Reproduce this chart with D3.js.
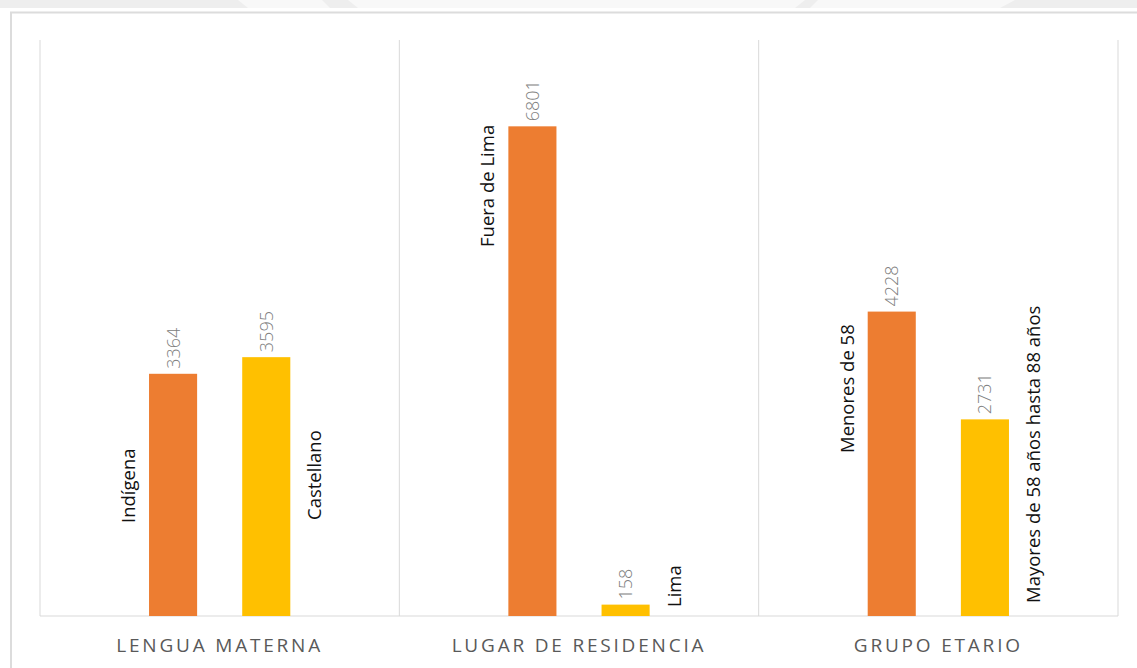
<!DOCTYPE html>
<html>
<head>
<meta charset="utf-8">
<script src="https://cdn.jsdelivr.net/npm/d3@7"></script>
<style>
  body { margin: 0; background: #fff; }
  svg { display: block; font-family: "Open Sans", sans-serif; }
</style>
</head>
<body>
<div id="chart"></div>
<script>
// Data
const groups = ["LENGUA MATERNA", "LUGAR DE RESIDENCIA", "GRUPO ETARIO"];
const firstLabels = ["Indígena", "Fuera de Lima", "Menores de 58"];
const firstValues = [3364, 6801, 4228];
const secondLabels = ["Castellano", "Lima", "Mayores de 58 años hasta 88 años"];
const secondValues = [3595, 158, 2731];

// where each rotated category label starts (px from top), set by hand in the original
const labelStartY = [[523, 520], [247, 607], [453, 603]];

const width = 1137, height = 668;
const plot = {left: 40, right: 1118, top: 40, bottom: 616};
const colors = ["#ED7D31", "#FFC000"];

const svg = d3.select("#chart").append("svg")
    .attr("width", width)
    .attr("height", height)
    .attr("viewBox", [0, 0, width, height]);

// page background bits (top strip + frame)
svg.append("rect").attr("x", 0).attr("y", 0).attr("width", width).attr("height", 8).attr("fill", "#eeeeee");
svg.append("path")
    .attr("d", "M238,0 L248,8 L330,8 L322,0 Z M348,0 L358,8 L795,8 L805,0 Z M818,0 L810,8 L1000,8 L1015,0 Z")
    .attr("fill", "#f8f8f8");
svg.append("path")
    .attr("d", `M11,${height} L11,12.5 L${width},12.5`)
    .attr("fill", "none")
    .attr("stroke", "#dcdcdc")
    .attr("stroke-width", 2);

const table = groups.map((g, i) => ({
  group: g,
  bars: [
    {label: firstLabels[i], value: firstValues[i], k: 0},
    {label: secondLabels[i], value: secondValues[i], k: 1}
  ]
}));

const x0 = d3.scaleBand(groups, [plot.left, plot.right]);
const x1 = d3.scaleBand([0, 1], [0, x0.bandwidth()]).paddingInner(0.484).paddingOuter(1.17);
const y = d3.scaleLinear([0, 8000], [plot.bottom, plot.top]);

// panel separators
svg.append("g")
    .attr("stroke", "#d9d9d9")
    .selectAll("line")
    .data(groups.map(g => x0(g)).concat([plot.right]))
    .join("line")
    .attr("x1", d => d).attr("x2", d => d)
    .attr("y1", plot.top).attr("y2", plot.bottom);

// baseline
svg.append("line")
    .attr("x1", plot.left).attr("x2", plot.right)
    .attr("y1", plot.bottom).attr("y2", plot.bottom)
    .attr("stroke", "#d9d9d9");

const panel = svg.append("g")
    .selectAll("g")
    .data(table)
    .join("g")
    .attr("transform", d => `translate(${x0(d.group)},0)`);

panel.selectAll("rect")
    .data(d => d.bars)
    .join("rect")
    .attr("x", d => x1(d.k))
    .attr("y", d => y(d.value))
    .attr("width", x1.bandwidth())
    .attr("height", d => y(0) - y(d.value))
    .attr("fill", d => colors[d.k]);

// value labels
panel.selectAll("text.value")
    .data(d => d.bars)
    .join("text")
    .attr("class", "value")
    .attr("transform", d => `translate(${x1(d.k) + x1.bandwidth() / 2 + 6.5},${y(d.value) - 5}) rotate(-90)`)
    .attr("fill", "#808080")
    .attr("font-size", 18)
    .attr("font-weight", 300)
    .text(d => d.value);

// category labels beside the bars
panel.selectAll("text.cat")
    .data((d, i) => d.bars.map(b => ({...b, g: i})))
    .join("text")
    .attr("class", "cat")
    .attr("transform", d => {
      const cx = d.k === 0 ? x1(d.k) - 14 : x1(d.k) + x1.bandwidth() + 31;
      return `translate(${cx},${labelStartY[d.g][d.k]}) rotate(-90)`;
    })
    .attr("fill", "#111")
    .attr("font-size", 18.5)
    .text(d => d.label);

// group labels under the panels
svg.append("g")
    .selectAll("text")
    .data(groups)
    .join("text")
    .attr("x", d => x0(d) + x0.bandwidth() / 2)
    .attr("y", 652)
    .attr("text-anchor", "middle")
    .attr("fill", "#595959")
    .attr("font-size", 19)
    .attr("letter-spacing", 2.8)
    .text(d => d);
</script>
</body>
</html>
